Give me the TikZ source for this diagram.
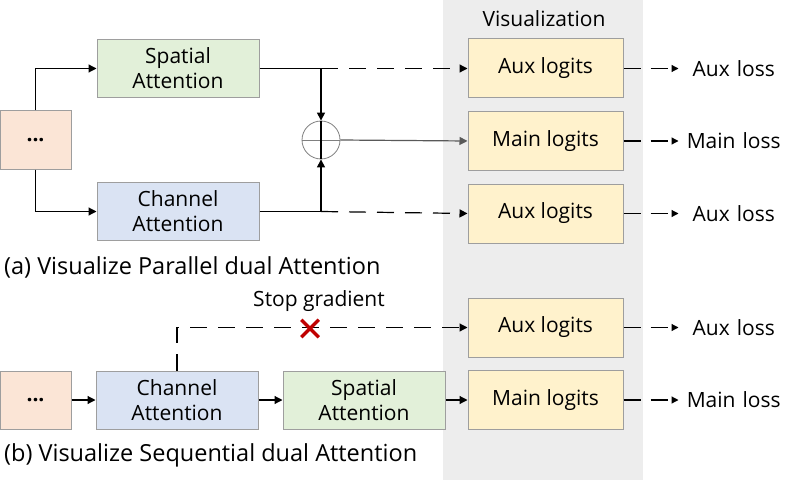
\documentclass[tikz,border=0pt]{standalone}
\usepackage{fontspec}
\setmainfont{Open Sans}
\usepackage{xcolor}
\usetikzlibrary{arrows.meta,positioning,shapes.misc}
\definecolor{dotorange}{RGB}{251,229,214}
\definecolor{spatgreen}{RGB}{226,240,217}
\definecolor{chanblue}{RGB}{218,227,243}
\definecolor{logityellow}{RGB}{255,242,204}
\definecolor{visgray}{RGB}{237,237,237}
\definecolor{stopred}{RGB}{192,0,0}
\tikzset{
  attbox/.style={
    rectangle,
    draw=black!38,
    line width=1pt,
    align=center,
    minimum width=162pt,
    minimum height=58pt,
    inner sep=2pt,
    font=\fontsize{21}{25}\selectfont
  },
  inbox/.style={
    attbox,
    fill=dotorange,
    minimum width=71pt
  },
  logitbox/.style={
    attbox,
    fill=logityellow,
    minimum width=155pt,
    minimum height=59pt
  },
  sumcircle/.style={
    circle,
    draw=black!50,
    line width=0.8pt,
    minimum size=38pt,
    inner sep=0pt
  },
  plainlabel/.style={
    inner sep=0pt,
    font=\fontsize{21}{25}\selectfont
  },
  losslabel/.style={
    plainlabel,
    text width=110pt,
    align=center
  },
  captionlabel/.style={
    inner sep=0pt,
    anchor=west,
    font=\fontsize{23.5}{28}\selectfont
  },
  stopcross/.style={
    cross out,
    draw=stopred,
    line width=3.5pt,
    minimum size=14pt,
    inner sep=0pt
  },
  flowline/.style={
    line width=1.2pt,
    draw=black
  },
  flowarrow/.style={
    flowline,
    -{Triangle[length=8pt,width=8pt]}
  },
  dasharrow/.style={
    flowarrow,
    dash pattern=on 17pt off 11pt
  },
  outarrow/.style={
    flowarrow,
    -{Triangle[length=7pt,width=7pt]},
    dash pattern=on 17pt off 10pt
  }
}

\begin{document}
\begin{tikzpicture}[x=1pt, y=-1pt, node distance=12.5pt and 24pt]
\useasboundingbox (0,0) rectangle (789,484);
\fill[visgray] (443,0) rectangle (643,480);
\node[plainlabel] (vis) at (544,19) {Visualization};

% (a) parallel dual attention
\node[inbox] (dotsA) at (35.5,140) {\textbf{...}};
\node[attbox, fill=spatgreen] (spatA) at (178,68.5) {Spatial\\Attention};
\node[attbox, fill=chanblue] (chanA) at (178,211.5) {Channel\\Attention};
\node[sumcircle] (sumA) at (321,140) {};
\node[logitbox] (auxA1) at (545.5,68.5) {Aux logits};
\node[logitbox, below=of auxA1] (mainA) {Main logits};
\node[logitbox, below=of mainA] (auxA2) {Aux logits};
\node[captionlabel] (capA) at (4,267) {(a) Visualize Parallel dual Attention};

\coordinate (splitA1) at (sumA |- spatA);
\coordinate (splitA2) at (sumA |- chanA);

\draw[flowarrow] (dotsA.north) |- (spatA.west);
\draw[flowarrow] (dotsA.south) |- (chanA.west);
\draw[flowline] (spatA.east) -- (splitA1);
\draw[flowline] (chanA.east) -- (splitA2);
\draw[black!50, line width=1pt] (sumA.west) -- (sumA.east);
\draw[flowline] (sumA.north) -- (sumA.south);
\draw[flowarrow] (splitA1) -- (sumA.north);
\draw[flowarrow] (splitA2) -- (sumA.south);
\draw[flowarrow, draw=black!65] (sumA.east) -- (mainA.west);
\draw[dasharrow] (splitA1) -- (auxA1.west);
\draw[dasharrow] (splitA2) -- (auxA2.west);

% (b) sequential dual attention
\node[inbox] (dotsB) at (35.5,400) {\textbf{...}};
\node[attbox, fill=chanblue, right=of dotsB] (chanB) {Channel\\Attention};
\node[attbox, fill=spatgreen, right=of chanB] (spatB) {Spatial\\Attention};
\node[logitbox] (mainB) at (545.5,400) {Main logits};
\node[logitbox, above=of mainB] (auxB) {Aux logits};
\node[captionlabel] (capB) at (4,455) {(b) Visualize Sequential dual Attention};

\draw[flowarrow] (dotsB) -- (chanB);
\draw[flowarrow] (chanB) -- (spatB);
\draw[flowarrow] (spatB) -- (mainB);
\draw[dasharrow] (chanB.north) |- (auxB.west);
\node[stopcross] (stopX) at (310,328.5) {};
\node[plainlabel] (stopLbl) at (319,301) {Stop gradient};

% outputs to the losses
\foreach \src/\dst/\txt in {auxA1/lossA1/Aux loss, mainA/lossA2/Main loss,
    auxA2/lossA3/Aux loss, auxB/lossB1/Aux loss, mainB/lossB2/Main loss} {
  \node[losslabel, right=55pt of \src] (\dst) {\txt};
  \draw[outarrow] (\src.east) -- (\dst.west);
}
\end{tikzpicture}
\end{document}
